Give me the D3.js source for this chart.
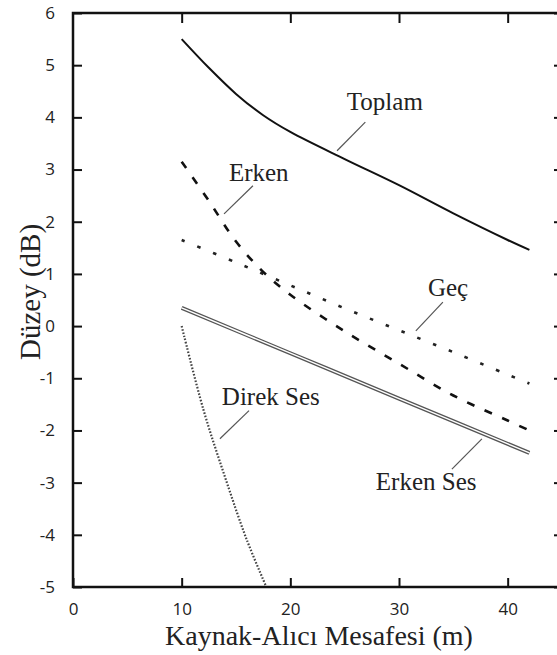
<!DOCTYPE html>
<html>
<head>
<meta charset="utf-8">
<script src="https://cdn.jsdelivr.net/npm/d3@7/dist/d3.min.js"></script>
<style>
  body { margin: 0; background: #fff; }
  svg { display: block; }
  .serif { font-family: "Liberation Serif", "Times New Roman", Times, "DejaVu Serif", serif; }
  .sans { font-family: "Open Sans", "Noto Sans", sans-serif; }
</style>
</head>
<body>
<script>
// values (x: distance in m, y: level in dB)
var toplamX = [10, 12.5, 15, 17.5, 20, 25, 30, 35, 40, 42];
var toplamY = [5.5, 4.95, 4.45, 4.04, 3.72, 3.20, 2.70, 2.16, 1.65, 1.46];

var erkenX = [10, 12.5, 15, 17.5, 20, 25, 30, 35, 40, 42];
var erkenY = [3.15, 2.4, 1.62, 1.04, 0.6, -0.1, -0.72, -1.33, -1.81, -2.0];

var gecX = [10, 15, 20, 25, 30, 35, 40, 42];
var gecY = [1.65, 1.22, 0.78, 0.34, -0.08, -0.5, -0.93, -1.1];

var erkenSesX = [10, 20, 30, 42];
var erkenSesY = [0.35, -0.52, -1.39, -2.43];

var direkX = [10, 12, 14, 16, 18];
var direkY = [0.0, -1.6, -2.9, -4.1, -5.1];

var xTicks = [0, 10, 20, 30, 40];
var yTicks = [-5, -4, -3, -2, -1, 0, 1, 2, 3, 4, 5, 6];

// label text, anchor of text, pointer start, pointer end (data units)
var labels = [
  { text: "Toplam",    at: [25.2, 4.14],   from: [26.9, 3.91],  to: [24.3, 3.36] },
  { text: "Erken",     at: [14.35, 2.78],  from: [16.56, 2.69], to: [13.9, 2.15] },
  { text: "Geç",       at: [32.66, 0.58],  from: [34.04, 0.46], to: [31.55, -0.09] },
  { text: "Direk Ses", at: [13.7, -1.51],  from: [16.2, -1.62], to: [13.52, -2.16] },
  { text: "Erken Ses", at: [27.87, -3.14], from: [34.87, -2.74], to: [37.63, -2.16] }
];

var width = 557, height = 655;
var plotL = 73, plotT = 13, plotR = 562, plotB = 587;

var svg = d3.select("body").append("svg")
    .attr("width", width)
    .attr("height", height);

var x = d3.scaleLinear().domain([0, 45]).range([plotL, plotR]);
var y = d3.scaleLinear().domain([-5, 6]).range([plotB, plotT]);

svg.append("clipPath").attr("id", "plot")
  .append("rect")
    .attr("x", plotL).attr("y", plotT)
    .attr("width", plotR - plotL).attr("height", plotB - plotT);

function zip(xs, ys) {
    return xs.map(function (d, i) { return [d, ys[i]]; });
}

var line = d3.line()
    .x(function (d) { return x(d[0]); })
    .y(function (d) { return y(d[1]); })
    .curve(d3.curveCatmullRom.alpha(0.5));

var g = svg.append("g").attr("clip-path", "url(#plot)");

// Erken Ses: hollow double line
g.append("path")
    .attr("d", line(zip(erkenSesX, erkenSesY)))
    .attr("fill", "none")
    .attr("stroke", "#555")
    .attr("stroke-width", 4);
g.append("path")
    .attr("d", line(zip(erkenSesX, erkenSesY)))
    .attr("fill", "none")
    .attr("stroke", "#fff")
    .attr("stroke-width", 1.4);

g.append("path")
    .attr("d", line(zip(direkX, direkY)))
    .attr("fill", "none")
    .attr("stroke", "#444")
    .attr("stroke-width", 2.2)
    .attr("stroke-dasharray", "1.6,1.7");

g.append("path")
    .attr("d", line(zip(gecX, gecY)))
    .attr("fill", "none")
    .attr("stroke", "#222")
    .attr("stroke-width", 2.6)
    .attr("stroke-dasharray", "3.5,13.5");

g.append("path")
    .attr("d", line(zip(erkenX, erkenY)))
    .attr("fill", "none")
    .attr("stroke", "#111")
    .attr("stroke-width", 2.6)
    .attr("stroke-dasharray", "8,11");

g.append("path")
    .attr("d", line(zip(toplamX, toplamY)))
    .attr("fill", "none")
    .attr("stroke", "#111")
    .attr("stroke-width", 2);

// axes, ticks pointing inward
function plain(d) { return String(d); }

svg.append("g")
    .attr("transform", "translate(0," + plotB + ")")
    .call(d3.axisBottom(x).tickValues(xTicks).tickFormat(plain)
        .tickSizeInner(-9).tickSizeOuter(0).tickPadding(16));

svg.append("g")
    .attr("transform", "translate(0," + plotT + ")")
    .call(d3.axisTop(x).tickValues(xTicks.slice(1)).tickSizeInner(-10).tickSizeOuter(0).tickFormat(""));

svg.append("g")
    .attr("transform", "translate(" + plotL + ",0)")
    .call(d3.axisLeft(y).tickValues(yTicks).tickFormat(plain)
        .tickSizeInner(-9).tickSizeOuter(0).tickPadding(18));

svg.append("g")
    .attr("transform", "translate(" + plotR + ",0)")
    .call(d3.axisRight(y).tickValues(yTicks).tickSizeInner(-8).tickSizeOuter(0).tickFormat(""));

svg.selectAll(".domain").remove();
svg.selectAll("g[font-family]").attr("font-family", null).attr("font-size", null);
svg.selectAll(".tick line").attr("stroke", "#111").attr("stroke-width", 2);
svg.selectAll(".tick text")
    .attr("class", "sans")
    .attr("fill", "#222")
    .style("font-size", "17px");

svg.append("rect")
    .attr("x", plotL).attr("y", plotT)
    .attr("width", plotR - plotL).attr("height", plotB - plotT)
    .attr("fill", "none")
    .attr("stroke", "#111")
    .attr("stroke-width", 2.5);

// annotations
labels.forEach(function (d) {
    svg.append("line")
        .attr("x1", x(d.from[0])).attr("y1", y(d.from[1]))
        .attr("x2", x(d.to[0])).attr("y2", y(d.to[1]))
        .attr("stroke", "#555")
        .attr("stroke-width", 1.2);
    svg.append("text")
        .attr("class", "serif")
        .attr("x", x(d.at[0]))
        .attr("y", y(d.at[1]))
        .attr("fill", "#222")
        .style("font-size", "25px")
        .text(d.text);
});

svg.append("text")
    .attr("class", "serif")
    .attr("x", 319)
    .attr("y", 645)
    .attr("text-anchor", "middle")
    .attr("fill", "#222")
    .style("font-size", "28px")
    .text("Kaynak-Alıcı Mesafesi (m)");

svg.append("text")
    .attr("class", "serif")
    .attr("transform", "translate(40,292) rotate(-90)")
    .attr("text-anchor", "middle")
    .attr("fill", "#222")
    .style("font-size", "29px")
    .text("Düzey (dB)");
</script>
</body>
</html>
